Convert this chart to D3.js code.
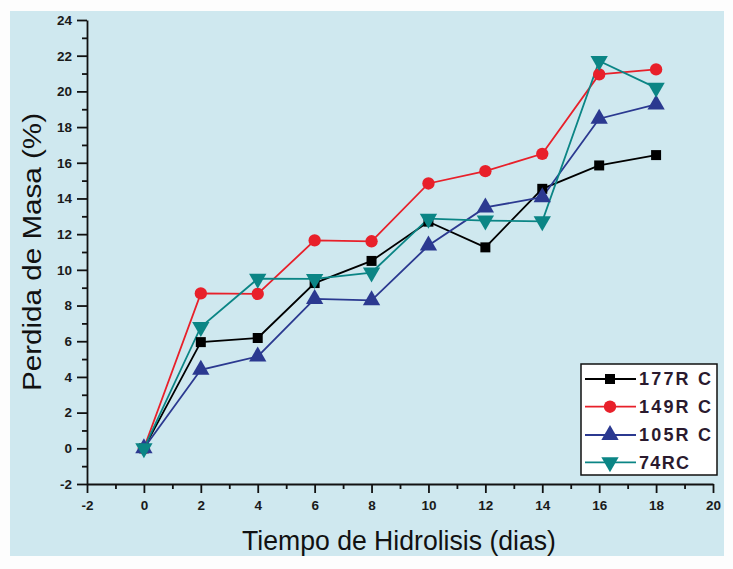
<!DOCTYPE html>
<html><head><meta charset="utf-8">
<script src="https://cdn.jsdelivr.net/npm/d3@7"></script>
<style>body{margin:0;background:#fdfdfd;} svg{display:block;}</style>
</head><body><svg id="c" width="733" height="569"></svg>
<script>
const days = [0, 2, 4, 6, 8, 10, 12, 14, 16, 18];
const s177 = [0, 5.95, 6.18, 9.26, 10.5, 12.7, 11.26, 14.54, 15.85, 16.43];
const s149 = [0, 8.68, 8.65, 11.65, 11.6, 14.84, 15.53, 16.5, 20.95, 21.23];
const s105 = [0, 4.4, 5.15, 8.37, 8.29, 11.36, 13.5, 14.07, 18.47, 19.27];
const s74  = [0, 6.8, 9.5, 9.49, 9.85, 12.87, 12.76, 12.72, 21.7, 20.2];
const seriesNames = ["177R C", "149R C", "105R C", "74RC"];
const seriesColors = ["#000000", "#e8202a", "#2b3990", "#0b8585"];
const seriesSymbols = [d3.symbolSquare, d3.symbolCircle, d3.symbolTriangle, d3.symbolTriangle];
const xTicks = [-2, 0, 2, 4, 6, 8, 10, 12, 14, 16, 18, 20];
const yTicks = [-2, 0, 2, 4, 6, 8, 10, 12, 14, 16, 18, 20, 22, 24];
const xTitle = "Tiempo de Hidrolisis (dias)";
const yTitle = "Perdida de Masa (%)";

const allSeries = [s177, s149, s105, s74];
const svg = d3.select("#c");
svg.append("rect").attr("x", 10).attr("y", 11).attr("width", 714).attr("height", 545).attr("fill", "#cfe8ef");

const x = d3.scaleLinear().domain([-2, 20]).range([87, 713]);
const y = d3.scaleLinear().domain([-2, 24]).range([484, 20]);

const xMinor = d3.range(-1, 20, 2);
const yMinor = d3.range(-1, 24, 2);
const fmt = d => String(d);

svg.append("g").attr("transform", "translate(0,484)")
  .call(d3.axisBottom(x).tickValues(xTicks).tickSize(9).tickPadding(7).tickFormat(fmt).tickSizeOuter(0));
svg.append("g").attr("transform", "translate(0,484)")
  .call(d3.axisBottom(x).tickValues(xMinor).tickSize(5).tickFormat("").tickSizeOuter(0))
  .select(".domain").remove();
svg.append("g").attr("transform", "translate(87,0)")
  .call(d3.axisLeft(y).tickValues(yTicks).tickSize(10).tickPadding(5).tickFormat(fmt).tickSizeOuter(0));
svg.append("g").attr("transform", "translate(87,0)")
  .call(d3.axisLeft(y).tickValues(yMinor).tickSize(5).tickFormat("").tickSizeOuter(0))
  .select(".domain").remove();

svg.selectAll(".tick line, .domain").attr("stroke", "#111").attr("stroke-width", 1.8);
svg.selectAll(".tick text").attr("font-family", "Liberation Sans, Arial, sans-serif")
  .attr("font-size", 13.5).attr("font-weight", "bold").attr("fill", "#1a1a1a");

// titles
svg.append("text").attr("x", 399).attr("y", 550).attr("text-anchor", "middle")
  .attr("textLength", 314).attr("lengthAdjust", "spacingAndGlyphs")
  .attr("font-family", "Liberation Sans, Arial, sans-serif").attr("font-size", 27).attr("fill", "#111").text(xTitle);
svg.append("text").attr("transform", "translate(41,252) rotate(-90)").attr("text-anchor", "middle")
  .attr("textLength", 278).attr("lengthAdjust", "spacingAndGlyphs")
  .attr("font-family", "Liberation Sans, Arial, sans-serif").attr("font-size", 25).attr("fill", "#111").text(yTitle);

const line = d3.line().x((d, i) => x(days[i])).y(d => y(d));
const symSizes = [100, 120, 130, 130];
allSeries.forEach((s, k) => {
  svg.append("path").datum(s).attr("d", line).attr("fill", "none")
    .attr("stroke", seriesColors[k]).attr("stroke-width", 1.8);
});
allSeries.forEach((s, k) => {
  svg.append("g").selectAll("path").data(s).join("path")
    .attr("transform", (d, i) => `translate(${x(days[i])},${y(d)})` + (k === 3 ? " rotate(180)" : ""))
    .attr("d", d3.symbol().type(seriesSymbols[k]).size(symSizes[k]))
    .attr("fill", seriesColors[k]);
});

// legend
const lg = svg.append("g");
lg.append("rect").attr("x", 581).attr("y", 364).attr("width", 136).attr("height", 111)
  .attr("fill", "#ffffff").attr("stroke", "#111").attr("stroke-width", 1.5);
const rowY = [379, 406.7, 435, 462.3];
const legendLen = [72, 72, 72, 50];
seriesNames.forEach((n, k) => {
  lg.append("line").attr("x1", 585).attr("x2", 636).attr("y1", rowY[k]).attr("y2", rowY[k])
    .attr("stroke", seriesColors[k]).attr("stroke-width", 1.8);
  lg.append("path").attr("transform", `translate(610,${rowY[k]})` + (k === 3 ? " rotate(180)" : ""))
    .attr("d", d3.symbol().type(seriesSymbols[k]).size(symSizes[k])).attr("fill", seriesColors[k]);
  lg.append("text").attr("x", 639).attr("y", rowY[k]).attr("dy", "0.36em")
    .attr("textLength", legendLen[k]).attr("lengthAdjust", "spacing")
    .attr("font-family", "Liberation Sans, Arial, sans-serif").attr("font-size", 18).attr("font-weight", "bold")
    .attr("fill", "#2a1a2e").text(n);
});
</script></body></html>
